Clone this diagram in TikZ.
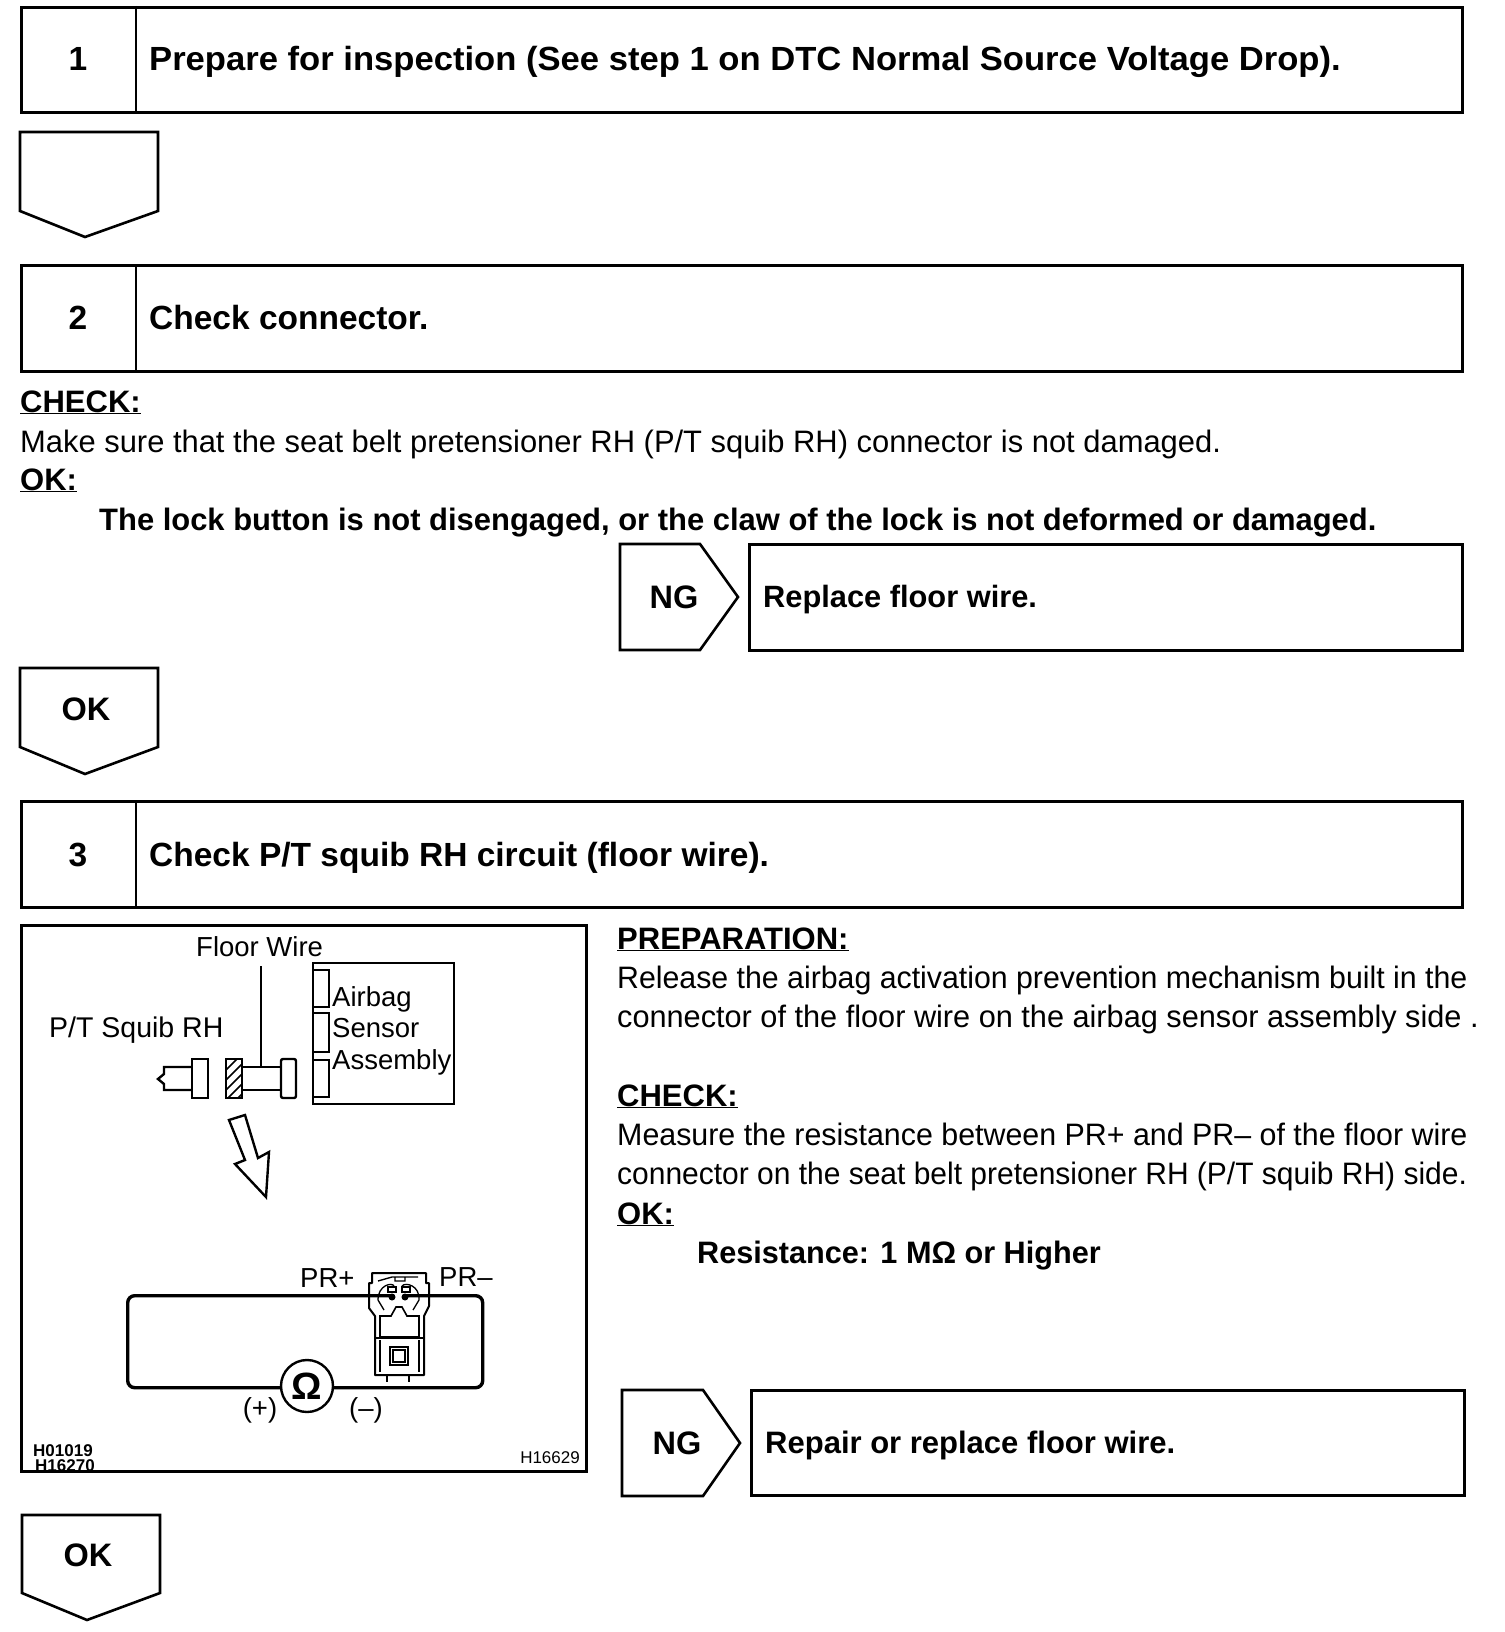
\documentclass[tikz,border=0pt]{standalone}
\usepackage{fontspec}
\setmainfont{Liberation Sans}
\newcommand\fsz[1]{\fontsize{#1}{#1}\selectfont}
\tikzset{
  line/.style={draw=black,line width=2.6pt,line join=miter},
  thin line/.style={draw=black,line width=2.4pt},
  stepbox/.style={line,fill=white,inner sep=0pt,anchor=north west},
  head/.style={anchor=base west,inner sep=0pt,font=\fsz{33.5}\bfseries},
  tag/.style={anchor=base,inner sep=0pt,font=\fsz{32.5}\bfseries},
  body/.style={anchor=base west,inner sep=0pt,font=\fsz{31}},
  bodyb/.style={anchor=base west,inner sep=0pt,font=\fsz{31}\bfseries},
  num/.style={anchor=base,inner sep=0pt,font=\fsz{33.5}\bfseries},
  lab/.style={anchor=base west,inner sep=0pt,font=\fsz{27.5}},
  tiny/.style={anchor=base west,inner sep=0pt,font=\fsz{17}},
}
\newcommand\ulab[1]{\underline{\smash{#1}}}
\newcommand\sqz[2]{\scalebox{#1}[1]{#2}}
\begin{document}
\begin{tikzpicture}[x=1pt,y=-1pt]
\useasboundingbox (0,0) rectangle (1504,1632);
% step boxes
\node[stepbox,minimum width=1441pt,minimum height=105pt] (b1) at (20,6) {};
\node[stepbox,minimum width=1441pt,minimum height=106pt] (b2) at (20,264) {};
\node[stepbox,minimum width=1441pt,minimum height=106pt] (b3) at (20,800) {};
\draw[line] (136,6) -- (136,111);
\draw[line] (136,264) -- (136,370);
\draw[line] (136,800) -- (136,906);
\node[num] (n1) at (78,71) {1};
\node[num] (n2) at (78,329) {2};
\node[num] (n3) at (78,866) {3};
\node[head] (t1) at (149,71) {\sqz{1.033}{Prepare for inspection (See step 1 on DTC Normal Source Voltage Drop).}};
\node[head] (t2) at (149,329) {Check connector.};
\node[head] (t3) at (149,866) {Check P/T squib RH circuit (floor wire).};
% down tags
\draw[line] (20,132) -- (158,132) -- (158,211) -- (85,237) -- (20,211) -- cycle;
\draw[line] (20,668) -- (158,668) -- (158,747) -- (85,774) -- (20,747) -- cycle;
\draw[line] (22,1515) -- (160,1515) -- (160,1593) -- (87,1620) -- (22,1593) -- cycle;
\node[tag] (ok1) at (86,720) {OK};
\node[tag] (ok2) at (88,1566) {OK};
% step 2 text
\node[bodyb] (c2) at (20,412) {\ulab{CHECK:}};
\node[body] (c2a) at (20,452) {\sqz{0.997}{Make sure that the seat belt pretensioner RH (P/T squib RH) connector is not damaged.}};
\node[bodyb] (c2b) at (20,490) {\ulab{OK:}};
\node[bodyb] (c2c) at (99,530) {\sqz{0.998}{The lock button is not disengaged, or the claw of the lock is not deformed or damaged.}};
% NG 1
\draw[line] (620,544) -- (700,544) -- (738,597) -- (700,650) -- (620,650) -- cycle;
\node[tag] (ng1) at (674,608) {NG};
\node[stepbox,minimum width=713pt,minimum height=106pt] (r1) at (748,543) {};
\node[head,font=\fsz{30.8}\bfseries] (r1t) at (763,607) {Replace floor wire.};
% NG 2
\draw[line] (622,1390) -- (703,1390) -- (740,1443) -- (703,1496) -- (622,1496) -- cycle;
\node[tag] (ng2) at (677,1454) {NG};
\node[stepbox,minimum width=713pt,minimum height=105pt] (r2) at (750,1389) {};
\node[head,font=\fsz{31}\bfseries] (r2t) at (765,1453) {Repair or replace floor wire.};
% step 3 text
\node[bodyb] (p0) at (617,949) {\ulab{PREPARATION:}};
\node[body] (p1) at (617,988) {\sqz{0.977}{Release the airbag activation prevention mechanism built in the}};
\node[body] (p2) at (617,1027) {\sqz{0.99}{connector of the floor wire on the airbag sensor assembly side .}};
\node[bodyb] (p3) at (617,1106) {\ulab{CHECK:}};
\node[body] (p4) at (617,1145) {\sqz{0.98}{Measure the resistance between PR+ and PR– of the floor wire}};
\node[body] (p5) at (617,1184) {\sqz{0.967}{connector on the seat belt pretensioner RH (P/T squib RH) side.}};
\node[bodyb] (p6) at (617,1224) {\ulab{OK:}};
\node[bodyb] (p7) at (697,1263) {\sqz{0.988}{Resistance: 1 MΩ or Higher}};
% illustration frame
\node[stepbox,minimum width=565pt,minimum height=546pt] (fr) at (20,924) {};
\node[lab] (fw) at (196,956) {Floor Wire};
\node[lab,font=\fsz{28.5}] (ps) at (49,1037) {P/T Squib RH};
% sensor box
\node[thin line,draw,inner sep=0pt,anchor=north west,minimum width=141pt,minimum height=141pt] (sb) at (312,962) {};
\draw[thin line] (313,970) -- (329,970) -- (329,1007) -- (313,1007);
\draw[thin line] (313,1013) -- (329,1013) -- (329,1052) -- (313,1052);
\draw[thin line] (313,1060) -- (329,1060) -- (329,1097) -- (313,1097);
\node[lab] (s1) at (332,1006) {Airbag};
\node[lab] (s2) at (332,1037) {Sensor};
\node[lab] (s3) at (332,1069) {Assembly};
% connectors in the illustration
\coordinate (wiretop) at (261,966);
\coordinate (wirebot) at (261,1067);
\draw[line width=1.8pt] (wiretop) -- (wirebot);
\draw[thin line] (192,1059) rectangle (208,1098);
\draw[thin line] (192,1067) -- (164,1067) -- (164,1074) -- (158,1079) -- (164,1084) -- (164,1090) -- (192,1090);
\draw[thin line] (226,1059) rectangle (242,1098);
\begin{scope}
\clip (226,1059) rectangle (242,1098);
\foreach \d in {-10,0,...,50}{\draw[line width=1.5pt] (226,1070+\d) -- (242,1054+\d);}
\end{scope}
\draw[thin line] (242,1067) -- (281,1067) (242,1090) -- (281,1090);
\draw[thin line,rounded corners=2pt] (281,1059) rectangle (296,1098);
% hollow arrow
\draw[thin line] (229,1120) -- (245,1115) -- (258,1158) -- (269,1152) -- (266,1197) -- (235,1164) -- (245,1160) -- cycle;
% loop
\node[draw,line width=3.4pt,rounded corners=7pt,inner sep=0pt,anchor=north west,minimum width=355pt,minimum height=92pt] (lp) at (126,1294) {};
\node[thin line,draw,circle,fill=white,minimum size=52pt,inner sep=0pt,font=\fsz{38}\bfseries] (om) at (307,1386) {Ω};
\node[lab] (pp) at (300,1287) {PR+};
\node[lab] (pm) at (439,1286) {PR–};
\node[lab,anchor=base] (pl) at (260,1417) {(+)};
\node[lab,anchor=base] (mi) at (366,1417) {(–)};
% squib connector
\fill[white] (376,1316) rectangle (423,1384) (393,1291) rectangle (403,1302);
\draw[line width=2pt,line join=round] (372,1273) -- (426,1273) -- (426,1283) -- (429,1283) -- (429,1306) -- (424,1316) -- (424,1375) -- (375,1375) -- (375,1316) -- (369,1308) -- (369,1283) -- (372,1283) -- cycle;
\draw[line width=1.4pt] (378,1281) -- (392,1277) -- (418,1277) (395,1277) -- (395,1281) -- (405,1281) -- (405,1277);
\draw[line width=1.6pt] (380,1316) -- (391,1316) -- (396,1307) -- (402,1307) -- (407,1316) -- (419,1316) -- (419,1337) -- (380,1337) -- cycle;
\draw[line width=1.6pt] (375,1338) -- (424,1338);
\draw[line width=1.5pt] (390,1347) rectangle (408,1365) (393,1350) rectangle (405,1362);
\draw[line width=1.6pt] (380,1340) -- (380,1372) (419,1340) -- (419,1372);
\draw[line width=1.3pt] (378,1300) .. controls (378,1285) and (392,1282) .. (394,1286) (419,1300) .. controls (420,1285) and (405,1282) .. (402,1286) (378,1300) -- (384,1310) (419,1300) -- (413,1310);
\draw[line width=1.3pt] (388,1287) rectangle (396,1292) (402,1287) rectangle (410,1292);
\fill (392,1297) circle (3.5pt) (405,1297) circle (3.5pt);
\draw[line width=2.2pt] (387,1375) -- (387,1382) (409,1375) -- (409,1382);
% codes
\node[tiny,font=\fsz{17}\bfseries] (h1) at (33,1456) {H01019};
\node[tiny,font=\fsz{17}\bfseries] (h2) at (35,1471) {H16270};
\node[tiny,anchor=base east] (h3) at (580,1463) {H16629};
\end{tikzpicture}
\end{document}
